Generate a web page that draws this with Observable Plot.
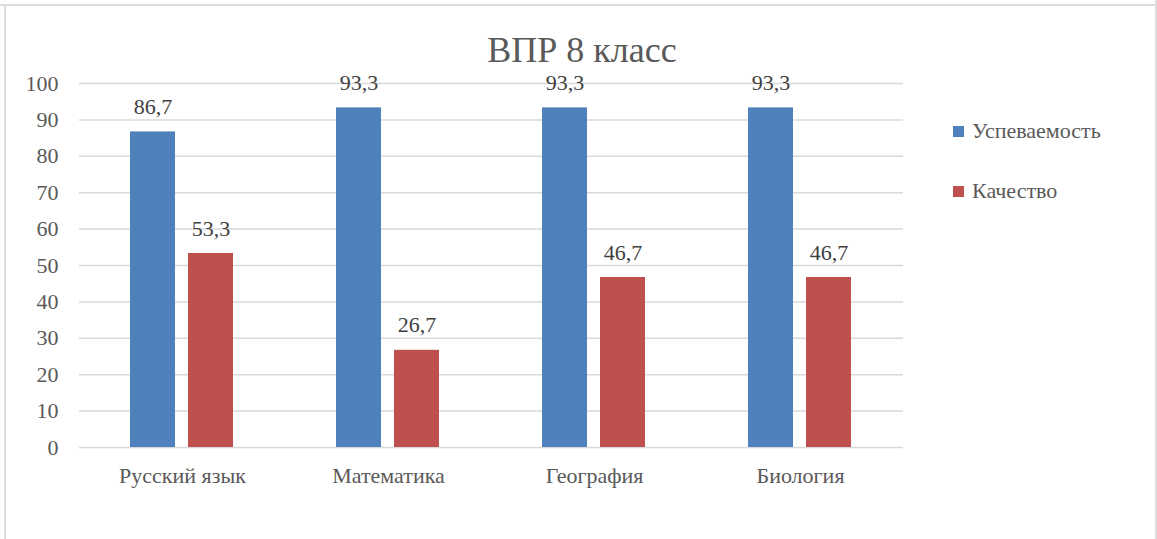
<!DOCTYPE html>
<html>
<head>
<meta charset="utf-8">
<script src="https://cdn.jsdelivr.net/npm/d3@7"></script>
<script src="https://cdn.jsdelivr.net/npm/@observablehq/plot@0.6"></script>
</head>
<body style="margin:0;padding:0;background:#fff;font-family:serif;font-size:22px;color:#595959">
<div style="position:absolute;left:0;top:4px;width:1156px;height:0;border-top:2px solid #dcdcdc"></div>
<div style="position:absolute;left:4px;top:6px;width:0;height:533px;border-left:2px solid #dcdcdc"></div>
<div style="position:absolute;left:1155px;top:0;width:0;height:539px;border-left:2px solid #dcdcdc"></div>
<div id="chart" style="position:absolute;left:0;top:0"></div>
<div style="position:absolute;left:0;top:27px;width:1164px;text-align:center;font-size:36px;line-height:46px;font-family:serif">ВПР 8 класс</div>
<div id="legend"></div>
<script>
const subjects = ["Русский язык", "Математика", "География", "Биология"];
const seriesNames = ["Успеваемость", "Качество"];
const uspevaemost = [86.7, 93.3, 93.3, 93.3];
const kachestvo = [53.3, 26.7, 46.7, 46.7];
const seriesColors = ["#4F81BD", "#C0504D"];
const yTicks = [0, 10, 20, 30, 40, 50, 60, 70, 80, 90, 100];

const seriesValues = [uspevaemost, kachestvo];
const data = [];
subjects.forEach((s, i) => {
  seriesNames.forEach((n, j) => {
    data.push({subject: s, series: n, value: seriesValues[j][i]});
  });
});

const fmt = v => String(v).replace(".", ",");

const chart = Plot.plot({
  width: 1157,
  height: 539,
  marginLeft: 78,
  marginRight: 253,
  marginTop: 83,
  marginBottom: 92,
  style: {fontFamily: "serif", fontSize: "22px", color: "#595959"},
  fx: {domain: subjects, paddingInner: 0, paddingOuter: 0, axis: "bottom", tickSize: 0, tickPadding: 20, label: null},
  x: {domain: seriesNames, paddingInner: 0.22, paddingOuter: 0.86, axis: null},
  y: {domain: [0, 100], ticks: yTicks, tickSize: 0, tickPadding: 21, label: null},
  color: {domain: seriesNames, range: seriesColors},
  marks: [
    Plot.ruleY(yTicks, {y: d => d, stroke: "#d9d9d9", strokeWidth: 1.5}),
    Plot.barY(data, {fx: "subject", x: "series", y: "value", fill: "series"}),
    Plot.text(data, {fx: "subject", x: "series", y: "value", text: d => fmt(d.value), dy: -25, fill: "#404040", fontSize: 22})
  ]
});
chart.style.background = "transparent";
document.getElementById("chart").appendChild(chart);

const legend = document.getElementById("legend");
const legendTops = [118, 178];
seriesNames.forEach((n, j) => {
  const div = document.createElement("div");
  div.style.cssText = `position:absolute;left:953px;top:${legendTops[j]}px;font-size:22px;line-height:26px;white-space:nowrap;font-family:serif`;
  const sw = document.createElement("span");
  sw.style.cssText = `display:inline-block;width:11px;height:11px;margin-right:8px;vertical-align:1px;background:${seriesColors[j]}`;
  div.appendChild(sw);
  div.appendChild(document.createTextNode(n));
  legend.appendChild(div);
});
</script>
</body>
</html>
